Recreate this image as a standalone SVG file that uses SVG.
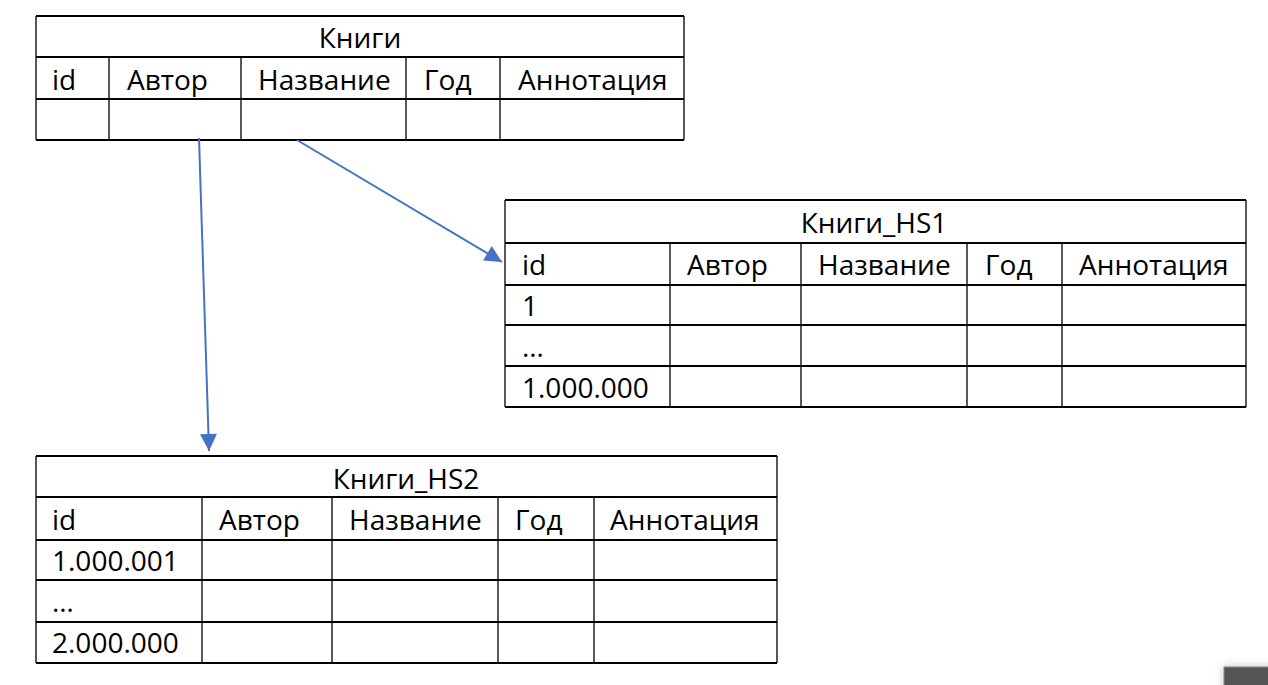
<svg xmlns="http://www.w3.org/2000/svg" width="1268" height="685" viewBox="0 0 1268 685">
<defs>
<style>
text{font-family:"Open Sans","Liberation Sans",sans-serif;font-size:28px;fill:#000}
.c{text-anchor:middle}
.h{stroke:#000;stroke-width:2;fill:none}
.v{stroke:#000;stroke-width:1.3;fill:none}
.conn{stroke:#4472C4;stroke-width:2;fill:none}
</style>
<marker id="ah" viewBox="0 0 10 10" refX="10" refY="5" markerWidth="18" markerHeight="17" markerUnits="userSpaceOnUse" orient="auto">
<path d="M0,0 L10,5 L0,10 z" fill="#4472C4"/>
</marker>
<filter id="sh" x="-50%" y="-50%" width="200%" height="200%"><feDropShadow dx="0" dy="0" stdDeviation="4" flood-color="#000" flood-opacity="0.25"/></filter>
</defs>
<rect width="1268" height="685" fill="#fff"/>

<g id="knigi">
<path class="h" d="M36,16H684M36,57H684M36,99H684M36,140H684"/>
<path class="v" d="M36,16V140M684,16V140M109,57V140M241,57V140M406,57V140M500,57V140"/>
<text class="c" x="360" y="48">Книги</text>
<text x="52" y="90">id</text>
<text x="127" y="90">Автор</text>
<text x="258" y="90">Название</text>
<text x="424" y="90">Год</text>
<text x="518" y="90">Аннотация</text>
</g>

<g id="knigi_hs1">
<path class="h" d="M505,200H1246M505,243H1246M505,285H1246M505,325H1246M505,366H1246M505,407H1246"/>
<path class="v" d="M505,200V407M1246,200V407M670,243V407M801,243V407M967,243V407M1062,243V407"/>
<text class="c" x="874" y="233">Книги_HS1</text>
<text x="522" y="275">id</text>
<text x="687" y="275">Автор</text>
<text x="818" y="275">Название</text>
<text x="985" y="275">Год</text>
<text x="1079" y="275">Аннотация</text>
<text x="522" y="316">1</text>
<text x="522" y="357">…</text>
<text x="522" y="398">1.000.000</text>
</g>

<g id="knigi_hs2">
<path class="h" d="M36,456H777M36,497H777M36,540H777M36,580H777M36,622H777M36,663H777"/>
<path class="v" d="M36,456V663M777,456V663M202,497V663M332,497V663M498,497V663M594,497V663"/>
<text class="c" x="406" y="489">Книги_HS2</text>
<text x="52" y="530">id</text>
<text x="219" y="530">Автор</text>
<text x="349" y="530">Название</text>
<text x="515" y="530">Год</text>
<text x="610" y="530">Аннотация</text>
<text x="52" y="571">1.000.001</text>
<text x="52" y="612">…</text>
<text x="52" y="653">2.000.000</text>
</g>

<g id="connectors">
<path class="conn" d="M199,138L209,451" marker-end="url(#ah)"/>
<path class="conn" d="M297,140L502,262" marker-end="url(#ah)"/>
</g>

<rect x="1224" y="667" width="60" height="30" fill="#555" stroke="#888" stroke-width="1" filter="url(#sh)"/>
</svg>
